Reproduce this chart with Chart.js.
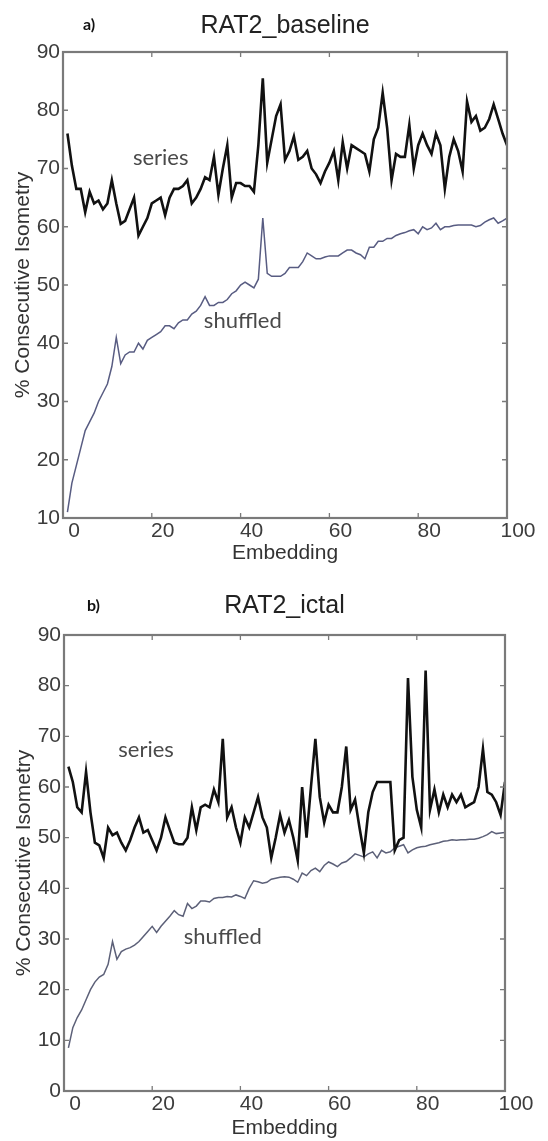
<!DOCTYPE html>
<html>
<head>
<meta charset="utf-8">
<script src="https://cdn.jsdelivr.net/npm/chart.js@4.4.0/dist/chart.umd.min.js"></script>
<style>
  body { margin: 0; background: #fff; }
  canvas { position: absolute; left: 0; }
  #baselineChart { top: 0; }
  #ictalChart { top: 570px; }
</style>
</head>
<body>
<canvas id="baselineChart" width="548" height="570"></canvas>
<canvas id="ictalChart" width="548" height="571"></canvas>
<script>
// embedding dimension (x axis)
const embedding = [
  1, 2, 3, 4, 5, 6, 7, 8, 9, 10, 11, 12, 13, 14, 15, 16, 17, 18, 19, 20,
  21, 22, 23, 24, 25, 26, 27, 28, 29, 30, 31, 32, 33, 34, 35, 36, 37, 38, 39, 40,
  41, 42, 43, 44, 45, 46, 47, 48, 49, 50, 51, 52, 53, 54, 55, 56, 57, 58, 59, 60,
  61, 62, 63, 64, 65, 66, 67, 68, 69, 70, 71, 72, 73, 74, 75, 76, 77, 78, 79, 80,
  81, 82, 83, 84, 85, 86, 87, 88, 89, 90, 91, 92, 93, 94, 95, 96, 97, 98, 99, 100
];

// a) RAT2_baseline
const baselineSeries = [
  76, 70.5, 66.5, 66.5, 62.5, 66, 64, 64.5, 63, 64,
  68, 64, 60.5, 61, 63, 65, 58.5, 60, 61.5, 64,
  64.5, 65, 62, 65, 66.5, 66.5, 67, 68, 64, 65,
  66.5, 68.5, 68, 72, 65.5, 70, 74, 65, 67.5, 67.5,
  67, 67, 66, 74, 85.5, 71, 75, 79, 81, 71.5,
  73, 75.5, 71.5, 72, 73, 70, 69, 67.5, 69.5, 71,
  73, 68, 74.5, 70, 74, 73.5, 73, 72.5, 69.5, 75,
  77, 83, 77, 68, 72.5, 72, 72, 77.5, 70, 74,
  76, 74, 72.5, 76, 74, 66.5, 72, 75, 73, 69.5,
  81.5, 78, 79, 76.5, 77, 78.5, 81, 78.5, 76, 74
];
const baselineShuffled = [
  11, 16, 19, 22, 25, 26.5, 28, 30, 31.5, 33,
  36, 41, 36.5, 38, 38.5, 38.5, 40, 39, 40.5, 41,
  41.5, 42, 43, 43, 42.5, 43.5, 44, 44, 45, 45.5,
  46.5, 48, 46.5, 46.5, 47, 47, 47.5, 48.5, 49, 50,
  50.5, 50, 49.5, 51, 61.5, 52, 51.5, 51.5, 51.5, 52,
  53, 53, 53, 54, 55.5, 55, 54.5, 54.5, 54.8, 55,
  55, 55, 55.5, 56, 56, 55.5, 55.2, 54.5, 56.5, 56.5,
  57.5, 57.5, 58, 58, 58.5, 58.8, 59, 59.3, 59.5, 58.8,
  60, 59.5, 59.8, 60.6, 59.5, 60, 60, 60.2, 60.3, 60.3,
  60.3, 60.3, 60, 60.2, 60.8, 61.2, 61.5, 60.6, 61, 61.5
];

// b) RAT2_ictal
const ictalSeries = [
  64, 61, 56, 55, 63, 55, 49, 48.5, 46, 52,
  50.5, 51, 49, 47.5, 49.5, 52, 54, 51, 51.5, 49.5,
  47.5, 50, 54, 51.5, 49, 48.7, 48.7, 50, 56, 51.5,
  56, 56.5, 56, 59.5, 57, 69.5, 54, 56, 52, 49,
  54, 52, 55, 58, 54, 52, 46, 50, 54.5, 51,
  53.5, 50, 45.5, 60, 50, 60, 69.5, 58, 53, 56.5,
  55, 55, 60, 68, 55.5, 57.5, 52, 47, 55, 59,
  61, 61, 61, 61, 47.5, 49.5, 50, 81.5, 62, 55.5,
  52, 83, 55.5, 59.5, 55, 58.5, 56, 58.5, 57, 58.5,
  56, 56.5, 57, 60, 67.5, 59, 58.5, 57, 54.5, 61
];
const ictalShuffled = [
  8.5, 12.5, 14.5, 16, 18, 20, 21.5, 22.5, 23, 25,
  29.5, 26, 27.5, 28, 28.3, 28.8, 29.5, 30.5, 31.5, 32.5,
  31.3, 32.5, 33.5, 34.5, 35.6, 34.8, 34.5, 37, 36, 36.5,
  37.5, 37.5, 37.3, 38, 38.2, 38.2, 38.4, 38.3, 38.7, 38.4,
  38, 40, 41.5, 41.3, 41, 41.2, 41.8, 42, 42.2, 42.3,
  42.2, 41.8, 41.2, 43, 42.5, 43.5, 44, 43.3, 44.5, 45.2,
  44.8, 44.3, 45, 45.3, 46, 46.8, 46.5, 46.2, 46.8, 47.2,
  46, 47.5, 47, 47.2, 48, 48.3, 48.6, 47, 47.6, 48,
  48.2, 48.3, 48.6, 48.8, 49, 49.3, 49.4, 49.6, 49.5, 49.6,
  49.6, 49.7, 49.7, 49.9, 50.2, 50.6, 51.2, 50.8, 50.9, 51
];

// tick labels
const xTicks = [0, 20, 40, 60, 80, 100];
const yTicksBaseline = [10, 20, 30, 40, 50, 60, 70, 80, 90];
const yTicksIctal = [0, 10, 20, 30, 40, 50, 60, 70, 80, 90];

function toPoints(values) {
  return values.map((v, i) => ({ x: embedding[i], y: v }));
}

// box, inward ticks, panel title, letter and line notes
const panelDecor = {
  id: "panelDecor",
  afterDraw(chart, args, opts) {
    const { ctx, chartArea: a, scales } = chart;
    const x = scales.x, y = scales.y;
    ctx.save();
    ctx.strokeStyle = "#7a7a7a";
    ctx.lineWidth = 1.3;
    ctx.beginPath();
    x.ticks.forEach((t) => {
      const px = x.getPixelForValue(t.value);
      ctx.moveTo(px, a.bottom); ctx.lineTo(px, a.bottom - 5);
      ctx.moveTo(px, a.top); ctx.lineTo(px, a.top + 5);
    });
    y.ticks.forEach((t) => {
      const py = y.getPixelForValue(t.value);
      ctx.moveTo(a.left, py); ctx.lineTo(a.left + 5, py);
      ctx.moveTo(a.right, py); ctx.lineTo(a.right - 5, py);
    });
    ctx.stroke();
    ctx.lineWidth = 2.2;
    ctx.strokeRect(a.left, a.top, a.right - a.left, a.bottom - a.top);

    ctx.fillStyle = "#222";
    ctx.textAlign = "center";
    ctx.textBaseline = "alphabetic";
    ctx.font = '25px "Liberation Sans", Arial, sans-serif';
    ctx.fillText(opts.title, (a.left + a.right) / 2, opts.titleY);

    ctx.textAlign = "left";
    ctx.font = 'bold 16px Lato, sans-serif';
    ctx.fillStyle = "#111";
    ctx.fillText(opts.letter, opts.letterX, opts.letterY);

    ctx.textAlign = "center";
    ctx.font = '22px Lato, sans-serif';
    ctx.fillStyle = "#4a4a4a";
    opts.notes.forEach((n) => {
      ctx.fillText(n.text, x.getPixelForValue(n.x), y.getPixelForValue(n.y));
    });
    ctx.restore();
  },
};

function makeChart(canvasId, series, shuffled, shuffledColor, yMin, yTicks, layoutPad, xTitlePad, decor) {
  return new Chart(document.getElementById(canvasId), {
    type: "line",
    data: {
      datasets: [
        {
          label: "series",
          data: toPoints(series),
          borderColor: "#111",
          borderWidth: 2.6,
          pointRadius: 0,
          tension: 0,
        },
        {
          label: "shuffled",
          data: toPoints(shuffled),
          borderColor: shuffledColor,
          borderWidth: 1.5,
          pointRadius: 0,
          tension: 0,
        },
      ],
    },
    options: {
      responsive: false,
      animation: false,
      layout: { padding: layoutPad },
      plugins: {
        legend: { display: false },
        tooltip: { enabled: false },
        panelDecor: decor,
      },
      scales: {
        x: {
          type: "linear",
          min: 0,
          max: 100,
          afterBuildTicks: (s) => { s.ticks = xTicks.map((v) => ({ value: v })); },
          afterFit: (s) => { s.height = decor.xAxisHeight; },
          grid: { display: false, drawTicks: false },
          border: { display: false },
          ticks: {
            padding: 1,
            labelOffset: 11,
            color: "#3c3c3c",
            font: { family: '"Liberation Sans", Arial, sans-serif', size: 21 },
          },
          title: {
            display: true,
            text: "Embedding",
            color: "#333",
            padding: { top: 0, bottom: xTitlePad },
            font: { family: '"Liberation Sans", Arial, sans-serif', size: 21 },
          },
        },
        y: {
          type: "linear",
          min: yMin,
          max: 90,
          afterBuildTicks: (s) => { s.ticks = yTicks.map((v) => ({ value: v })); },
          afterFit: (s) => { s.width = 63; },
          grid: { display: false, drawTicks: false },
          border: { display: false },
          ticks: {
            padding: 3,
            color: "#3c3c3c",
            font: { family: '"Liberation Sans", Arial, sans-serif', size: 21 },
          },
          title: {
            display: true,
            text: "% Consecutive Isometry",
            color: "#333",
            padding: { top: 11, bottom: 0 },
            font: { family: '"Liberation Sans", Arial, sans-serif', size: 21 },
          },
        },
      },
    },
    plugins: [panelDecor],
  });
}

makeChart("baselineChart", baselineSeries, baselineShuffled, "#585c82", 10, yTicksBaseline,
  { top: 52, right: 41, bottom: 0, left: 0 }, 4,
  {
    title: "RAT2_baseline", titleY: 33, letter: "a)", letterX: 83, letterY: 30,
    xAxisHeight: 52,
    notes: [
      { text: "series", x: 22, y: 70.6 },
      { text: "shuffled", x: 40.5, y: 42.7 },
    ],
  });

makeChart("ictalChart", ictalSeries, ictalShuffled, "#5c6078", 0, yTicksIctal,
  { top: 65, right: 43, bottom: 0, left: 1 }, 0,
  {
    title: "RAT2_ictal", titleY: 43, letter: "b)", letterX: 87, letterY: 41,
    xAxisHeight: 50,
    notes: [
      { text: "series", x: 18.6, y: 66 },
      { text: "shuffled", x: 36, y: 29 },
    ],
  });
</script>
</body>
</html>
